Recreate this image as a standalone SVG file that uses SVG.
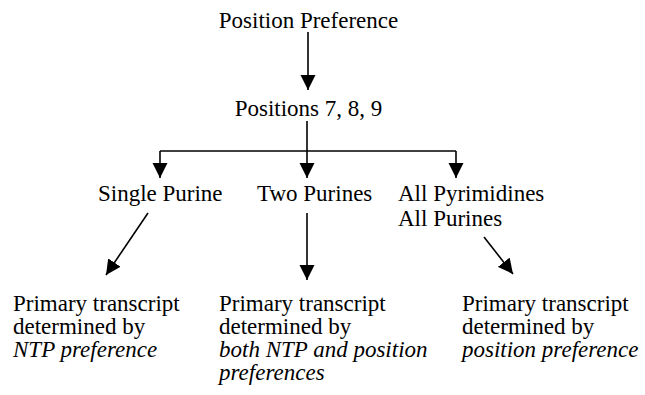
<svg xmlns="http://www.w3.org/2000/svg" width="645" height="395" viewBox="0 0 645 395">
  <style>
    .lbl { font-family: 'Liberation Serif', Tinos, 'DejaVu Serif', serif; font-size: 23px; fill: #000; }
    .it { font-style: italic; }
    .conn { stroke: #000; stroke-width: 1.6; fill: none; }
  </style>
  <defs>
    <marker id="head" markerUnits="userSpaceOnUse" markerWidth="16" markerHeight="16" viewBox="0 0 16 16" refX="15" refY="8" orient="auto">
      <path d="M0,0.5 L15,8 L0,15.5 Z" fill="#000"/>
    </marker>
  </defs>
  <rect width="645" height="395" fill="#fff"/>

  <g class="lbl">
    <g id="position-preference"><text x="308.5" y="28" text-anchor="middle">Position Preference</text></g>
    <g id="positions-789"><text x="308.5" y="116" text-anchor="middle">Positions 7, 8, 9</text></g>
    <g id="single-purine"><text x="98" y="201">Single Purine</text></g>
    <g id="two-purines"><text x="257" y="201">Two Purines</text></g>
    <g id="all-pyr-pur">
      <text x="398" y="201">All Pyrimidines</text>
      <text x="398" y="226">All Purines</text>
    </g>
    <g id="ntp-outcome">
      <text x="13" y="311">Primary transcript</text>
      <text x="13" y="334">determined by</text>
      <text x="13" y="357" class="it">NTP preference</text>
    </g>
    <g id="both-outcome">
      <text x="219" y="311">Primary transcript</text>
      <text x="219" y="334">determined by</text>
      <text x="219" y="357" class="it">both NTP and position</text>
      <text x="219" y="380" class="it">preferences</text>
    </g>
    <g id="position-outcome">
      <text x="462" y="311">Primary transcript</text>
      <text x="462" y="334">determined by</text>
      <text x="462" y="357" class="it">position preference</text>
    </g>
  </g>

  <g id="connectors">
    <line class="conn" x1="308" y1="32" x2="308" y2="90" marker-end="url(#head)"/>
    <polyline class="conn" points="307,121 307,151"/>
    <polyline class="conn" points="160,151 456,151"/>
    <line class="conn" x1="160" y1="151" x2="160" y2="178" marker-end="url(#head)"/>
    <line class="conn" x1="307" y1="151" x2="307" y2="178" marker-end="url(#head)"/>
    <line class="conn" x1="456" y1="151" x2="456" y2="178" marker-end="url(#head)"/>
    <line class="conn" x1="148" y1="213" x2="106" y2="275" marker-end="url(#head)"/>
    <line class="conn" x1="307" y1="213" x2="307" y2="280" marker-end="url(#head)"/>
    <line class="conn" x1="484" y1="237" x2="513" y2="274" marker-end="url(#head)"/>
  </g>
</svg>
